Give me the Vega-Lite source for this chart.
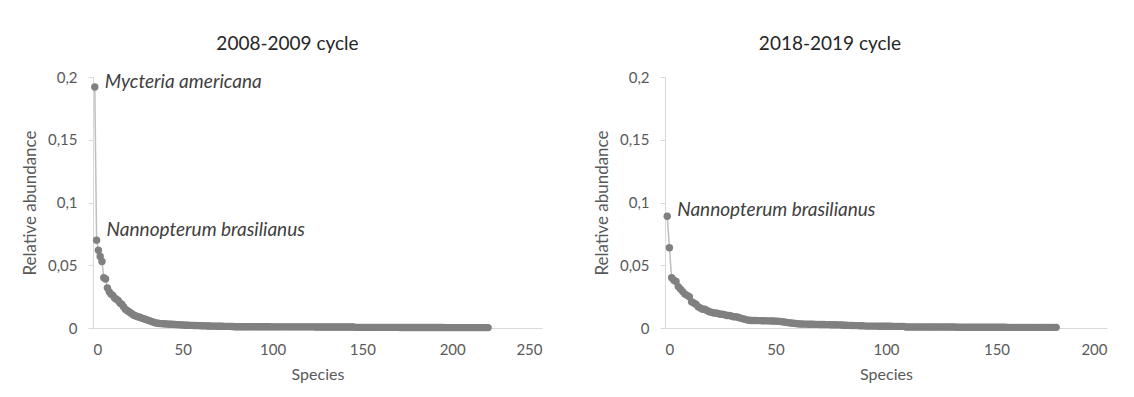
{
  "$schema": "https://vega.github.io/schema/vega-lite/v6.json",
  "background": "white",
  "padding": {"left": 21, "top": 35, "right": 5, "bottom": 5},
  "spacing": 51,
  "config": {
    "view": {"stroke": null},
    "font": "Lato",
    "axis": {
      "grid": false,
      "domainColor": "#d9d9d9",
      "domainWidth": 1,
      "tickColor": "#d9d9d9",
      "labelColor": "#595959",
      "titleColor": "#595959",
      "labelFont": "Lato",
      "titleFont": "Lato",
      "labelFontSize": 15,
      "titleFontSize": 15,
      "titleFontWeight": "normal"
    },
    "title": {"font": "Lato", "fontSize": 19, "fontWeight": "normal", "color": "#262626", "offset": 16}
  },
  "datasets": {
    "c2008": [
      {"species": 1, "abundance": 0.192, "label": "Mycteria americana"},
      {"species": 2, "abundance": 0.07, "label": "Nannopterum brasilianus"},
      {"species": 3, "abundance": 0.062}, {"species": 4, "abundance": 0.057}, {"species": 5, "abundance": 0.053},
      {"species": 6, "abundance": 0.04}, {"species": 7, "abundance": 0.039}, {"species": 8, "abundance": 0.032},
      {"species": 9, "abundance": 0.029}, {"species": 10, "abundance": 0.027}, {"species": 11, "abundance": 0.026},
      {"species": 12, "abundance": 0.024}, {"species": 13, "abundance": 0.023}, {"species": 14, "abundance": 0.022},
      {"species": 15, "abundance": 0.02}, {"species": 16, "abundance": 0.019}, {"species": 17, "abundance": 0.017},
      {"species": 18, "abundance": 0.015}, {"species": 19, "abundance": 0.014}, {"species": 20, "abundance": 0.013},
      {"species": 21, "abundance": 0.012}, {"species": 22, "abundance": 0.011}, {"species": 23, "abundance": 0.01},
      {"species": 24, "abundance": 0.0095}, {"species": 25, "abundance": 0.009}, {"species": 26, "abundance": 0.0085},
      {"species": 27, "abundance": 0.008}, {"species": 28, "abundance": 0.0075}, {"species": 29, "abundance": 0.007},
      {"species": 30, "abundance": 0.0065}, {"species": 31, "abundance": 0.006}, {"species": 32, "abundance": 0.0055},
      {"species": 33, "abundance": 0.005}, {"species": 34, "abundance": 0.0045}, {"species": 35, "abundance": 0.004},
      {"species": 36, "abundance": 0.0038}, {"species": 37, "abundance": 0.0036}, {"species": 38, "abundance": 0.0035},
      {"species": 39, "abundance": 0.0034}, {"species": 40, "abundance": 0.0033}, {"species": 41, "abundance": 0.0032},
      {"species": 42, "abundance": 0.0031}, {"species": 43, "abundance": 0.003}, {"species": 44, "abundance": 0.003},
      {"species": 45, "abundance": 0.0029}, {"species": 46, "abundance": 0.0028}, {"species": 47, "abundance": 0.0027},
      {"species": 48, "abundance": 0.0026}, {"species": 49, "abundance": 0.0025}, {"species": 50, "abundance": 0.0024},
      {"species": 51, "abundance": 0.0023}, {"species": 52, "abundance": 0.0022}, {"species": 53, "abundance": 0.0022},
      {"species": 54, "abundance": 0.0021}, {"species": 55, "abundance": 0.0021}, {"species": 56, "abundance": 0.002},
      {"species": 57, "abundance": 0.002}, {"species": 58, "abundance": 0.0019}, {"species": 59, "abundance": 0.0019},
      {"species": 60, "abundance": 0.0018}, {"species": 61, "abundance": 0.0018}, {"species": 62, "abundance": 0.0017},
      {"species": 63, "abundance": 0.0017}, {"species": 64, "abundance": 0.0016}, {"species": 65, "abundance": 0.0016},
      {"species": 66, "abundance": 0.0015}, {"species": 67, "abundance": 0.0015}, {"species": 68, "abundance": 0.0015},
      {"species": 69, "abundance": 0.0014}, {"species": 70, "abundance": 0.0014}, {"species": 71, "abundance": 0.0014},
      {"species": 72, "abundance": 0.0014}, {"species": 73, "abundance": 0.0013}, {"species": 74, "abundance": 0.0013},
      {"species": 75, "abundance": 0.0013}, {"species": 76, "abundance": 0.0013}, {"species": 77, "abundance": 0.0012},
      {"species": 78, "abundance": 0.0012},
      {"species": 79, "abundance": 0.001}, {"species": 80, "abundance": 0.001}, {"species": 81, "abundance": 0.001},
      {"species": 82, "abundance": 0.001}, {"species": 83, "abundance": 0.001}, {"species": 84, "abundance": 0.001},
      {"species": 85, "abundance": 0.001}, {"species": 86, "abundance": 0.001}, {"species": 87, "abundance": 0.001},
      {"species": 88, "abundance": 0.001}, {"species": 89, "abundance": 0.001}, {"species": 90, "abundance": 0.001},
      {"species": 91, "abundance": 0.001}, {"species": 92, "abundance": 0.001}, {"species": 93, "abundance": 0.001},
      {"species": 94, "abundance": 0.001}, {"species": 95, "abundance": 0.001}, {"species": 96, "abundance": 0.001},
      {"species": 97, "abundance": 0.001}, {"species": 98, "abundance": 0.001},
      {"species": 99, "abundance": 0.0009}, {"species": 100, "abundance": 0.0009}, {"species": 101, "abundance": 0.0009},
      {"species": 102, "abundance": 0.0009}, {"species": 103, "abundance": 0.0009}, {"species": 104, "abundance": 0.0009},
      {"species": 105, "abundance": 0.0009}, {"species": 106, "abundance": 0.0009}, {"species": 107, "abundance": 0.0009},
      {"species": 108, "abundance": 0.0009}, {"species": 109, "abundance": 0.0009}, {"species": 110, "abundance": 0.0009},
      {"species": 111, "abundance": 0.0009}, {"species": 112, "abundance": 0.0009}, {"species": 113, "abundance": 0.0009},
      {"species": 114, "abundance": 0.0009}, {"species": 115, "abundance": 0.0009}, {"species": 116, "abundance": 0.0009},
      {"species": 117, "abundance": 0.0009}, {"species": 118, "abundance": 0.0009}, {"species": 119, "abundance": 0.0009},
      {"species": 120, "abundance": 0.0009}, {"species": 121, "abundance": 0.0009}, {"species": 122, "abundance": 0.0009},
      {"species": 123, "abundance": 0.0009},
      {"species": 124, "abundance": 0.0008}, {"species": 125, "abundance": 0.0008}, {"species": 126, "abundance": 0.0008},
      {"species": 127, "abundance": 0.0008}, {"species": 128, "abundance": 0.0008}, {"species": 129, "abundance": 0.0008},
      {"species": 130, "abundance": 0.0008}, {"species": 131, "abundance": 0.0008}, {"species": 132, "abundance": 0.0008},
      {"species": 133, "abundance": 0.0008}, {"species": 134, "abundance": 0.0008}, {"species": 135, "abundance": 0.0008},
      {"species": 136, "abundance": 0.0008}, {"species": 137, "abundance": 0.0008}, {"species": 138, "abundance": 0.0008},
      {"species": 139, "abundance": 0.0008}, {"species": 140, "abundance": 0.0008}, {"species": 141, "abundance": 0.0008},
      {"species": 142, "abundance": 0.0008}, {"species": 143, "abundance": 0.0008}, {"species": 144, "abundance": 0.0008},
      {"species": 145, "abundance": 0.0008},
      {"species": 146, "abundance": 0.0005}, {"species": 147, "abundance": 0.0005}, {"species": 148, "abundance": 0.0005},
      {"species": 149, "abundance": 0.0005}, {"species": 150, "abundance": 0.0005}, {"species": 151, "abundance": 0.0005},
      {"species": 152, "abundance": 0.0005}, {"species": 153, "abundance": 0.0005}, {"species": 154, "abundance": 0.0005},
      {"species": 155, "abundance": 0.0005}, {"species": 156, "abundance": 0.0005}, {"species": 157, "abundance": 0.0005},
      {"species": 158, "abundance": 0.0005}, {"species": 159, "abundance": 0.0005}, {"species": 160, "abundance": 0.0005},
      {"species": 161, "abundance": 0.0005}, {"species": 162, "abundance": 0.0005}, {"species": 163, "abundance": 0.0005},
      {"species": 164, "abundance": 0.0005}, {"species": 165, "abundance": 0.0005}, {"species": 166, "abundance": 0.0005},
      {"species": 167, "abundance": 0.0005}, {"species": 168, "abundance": 0.0005}, {"species": 169, "abundance": 0.0005},
      {"species": 170, "abundance": 0.0005},
      {"species": 171, "abundance": 0.0004}, {"species": 172, "abundance": 0.0004}, {"species": 173, "abundance": 0.0004},
      {"species": 174, "abundance": 0.0004}, {"species": 175, "abundance": 0.0004}, {"species": 176, "abundance": 0.0004},
      {"species": 177, "abundance": 0.0004}, {"species": 178, "abundance": 0.0004}, {"species": 179, "abundance": 0.0004},
      {"species": 180, "abundance": 0.0004}, {"species": 181, "abundance": 0.0004}, {"species": 182, "abundance": 0.0004},
      {"species": 183, "abundance": 0.0004}, {"species": 184, "abundance": 0.0004}, {"species": 185, "abundance": 0.0004},
      {"species": 186, "abundance": 0.0004}, {"species": 187, "abundance": 0.0004}, {"species": 188, "abundance": 0.0004},
      {"species": 189, "abundance": 0.0004}, {"species": 190, "abundance": 0.0004}, {"species": 191, "abundance": 0.0004},
      {"species": 192, "abundance": 0.0004}, {"species": 193, "abundance": 0.0004}, {"species": 194, "abundance": 0.0004},
      {"species": 195, "abundance": 0.0004},
      {"species": 196, "abundance": 0.0003}, {"species": 197, "abundance": 0.0003}, {"species": 198, "abundance": 0.0003},
      {"species": 199, "abundance": 0.0003}, {"species": 200, "abundance": 0.0003}, {"species": 201, "abundance": 0.0003},
      {"species": 202, "abundance": 0.0003}, {"species": 203, "abundance": 0.0003}, {"species": 204, "abundance": 0.0003},
      {"species": 205, "abundance": 0.0003}, {"species": 206, "abundance": 0.0003}, {"species": 207, "abundance": 0.0003},
      {"species": 208, "abundance": 0.0003}, {"species": 209, "abundance": 0.0003}, {"species": 210, "abundance": 0.0003},
      {"species": 211, "abundance": 0.0003}, {"species": 212, "abundance": 0.0003}, {"species": 213, "abundance": 0.0003},
      {"species": 214, "abundance": 0.0003}, {"species": 215, "abundance": 0.0003}, {"species": 216, "abundance": 0.0003},
      {"species": 217, "abundance": 0.0003}, {"species": 218, "abundance": 0.0003}, {"species": 219, "abundance": 0.0003},
      {"species": 220, "abundance": 0.0003}
    ],
    "c2018": [
      {"species": 1, "abundance": 0.089, "label": "Nannopterum brasilianus"},
      {"species": 2, "abundance": 0.064}, {"species": 3, "abundance": 0.04}, {"species": 4, "abundance": 0.038},
      {"species": 5, "abundance": 0.037}, {"species": 6, "abundance": 0.033}, {"species": 7, "abundance": 0.031},
      {"species": 8, "abundance": 0.029}, {"species": 9, "abundance": 0.027}, {"species": 10, "abundance": 0.026},
      {"species": 11, "abundance": 0.025}, {"species": 12, "abundance": 0.021}, {"species": 13, "abundance": 0.02},
      {"species": 14, "abundance": 0.019}, {"species": 15, "abundance": 0.017}, {"species": 16, "abundance": 0.016},
      {"species": 17, "abundance": 0.015}, {"species": 18, "abundance": 0.015}, {"species": 19, "abundance": 0.014},
      {"species": 20, "abundance": 0.013}, {"species": 21, "abundance": 0.0125}, {"species": 22, "abundance": 0.012},
      {"species": 23, "abundance": 0.012}, {"species": 24, "abundance": 0.0115}, {"species": 25, "abundance": 0.011},
      {"species": 26, "abundance": 0.011}, {"species": 27, "abundance": 0.0105}, {"species": 28, "abundance": 0.01},
      {"species": 29, "abundance": 0.01}, {"species": 30, "abundance": 0.0095}, {"species": 31, "abundance": 0.009},
      {"species": 32, "abundance": 0.009}, {"species": 33, "abundance": 0.0085}, {"species": 34, "abundance": 0.008},
      {"species": 35, "abundance": 0.0075}, {"species": 36, "abundance": 0.007}, {"species": 37, "abundance": 0.0065},
      {"species": 38, "abundance": 0.0062}, {"species": 39, "abundance": 0.006}, {"species": 40, "abundance": 0.006},
      {"species": 41, "abundance": 0.006}, {"species": 42, "abundance": 0.0059}, {"species": 43, "abundance": 0.0059},
      {"species": 44, "abundance": 0.0058}, {"species": 45, "abundance": 0.0058}, {"species": 46, "abundance": 0.0057},
      {"species": 47, "abundance": 0.0057}, {"species": 48, "abundance": 0.0056}, {"species": 49, "abundance": 0.0056},
      {"species": 50, "abundance": 0.0055}, {"species": 51, "abundance": 0.0054}, {"species": 52, "abundance": 0.0053},
      {"species": 53, "abundance": 0.005}, {"species": 54, "abundance": 0.0048}, {"species": 55, "abundance": 0.0045},
      {"species": 56, "abundance": 0.0042}, {"species": 57, "abundance": 0.004}, {"species": 58, "abundance": 0.0038},
      {"species": 59, "abundance": 0.0036}, {"species": 60, "abundance": 0.0034}, {"species": 61, "abundance": 0.0032},
      {"species": 62, "abundance": 0.0032}, {"species": 63, "abundance": 0.0031}, {"species": 64, "abundance": 0.0031},
      {"species": 65, "abundance": 0.003}, {"species": 66, "abundance": 0.003}, {"species": 67, "abundance": 0.003},
      {"species": 68, "abundance": 0.0029}, {"species": 69, "abundance": 0.0029}, {"species": 70, "abundance": 0.0028},
      {"species": 71, "abundance": 0.0028}, {"species": 72, "abundance": 0.0028}, {"species": 73, "abundance": 0.0027},
      {"species": 74, "abundance": 0.0027}, {"species": 75, "abundance": 0.0026}, {"species": 76, "abundance": 0.0026},
      {"species": 77, "abundance": 0.0026}, {"species": 78, "abundance": 0.0025}, {"species": 79, "abundance": 0.0025},
      {"species": 80, "abundance": 0.0024}, {"species": 81, "abundance": 0.0022}, {"species": 82, "abundance": 0.0022},
      {"species": 83, "abundance": 0.0021}, {"species": 84, "abundance": 0.002}, {"species": 85, "abundance": 0.002},
      {"species": 86, "abundance": 0.0019}, {"species": 87, "abundance": 0.0019}, {"species": 88, "abundance": 0.0018},
      {"species": 89, "abundance": 0.0018}, {"species": 90, "abundance": 0.0017},
      {"species": 91, "abundance": 0.0015}, {"species": 92, "abundance": 0.0015}, {"species": 93, "abundance": 0.0015},
      {"species": 94, "abundance": 0.0015}, {"species": 95, "abundance": 0.0015}, {"species": 96, "abundance": 0.0015},
      {"species": 97, "abundance": 0.0014}, {"species": 98, "abundance": 0.0014}, {"species": 99, "abundance": 0.0014},
      {"species": 100, "abundance": 0.0014}, {"species": 101, "abundance": 0.0014}, {"species": 102, "abundance": 0.0014},
      {"species": 103, "abundance": 0.0013}, {"species": 104, "abundance": 0.0013}, {"species": 105, "abundance": 0.0013},
      {"species": 106, "abundance": 0.0013}, {"species": 107, "abundance": 0.0013}, {"species": 108, "abundance": 0.0013},
      {"species": 109, "abundance": 0.0008}, {"species": 110, "abundance": 0.0008}, {"species": 111, "abundance": 0.0008},
      {"species": 112, "abundance": 0.0008}, {"species": 113, "abundance": 0.0008}, {"species": 114, "abundance": 0.0008},
      {"species": 115, "abundance": 0.0008}, {"species": 116, "abundance": 0.0008}, {"species": 117, "abundance": 0.0008},
      {"species": 118, "abundance": 0.0008}, {"species": 119, "abundance": 0.0008}, {"species": 120, "abundance": 0.0008},
      {"species": 121, "abundance": 0.0008}, {"species": 122, "abundance": 0.0008}, {"species": 123, "abundance": 0.0008},
      {"species": 124, "abundance": 0.0008}, {"species": 125, "abundance": 0.0008}, {"species": 126, "abundance": 0.0008},
      {"species": 127, "abundance": 0.0008}, {"species": 128, "abundance": 0.0008}, {"species": 129, "abundance": 0.0008},
      {"species": 130, "abundance": 0.0008}, {"species": 131, "abundance": 0.0008},
      {"species": 132, "abundance": 0.0006}, {"species": 133, "abundance": 0.0006}, {"species": 134, "abundance": 0.0006},
      {"species": 135, "abundance": 0.0006}, {"species": 136, "abundance": 0.0006}, {"species": 137, "abundance": 0.0006},
      {"species": 138, "abundance": 0.0006}, {"species": 139, "abundance": 0.0006}, {"species": 140, "abundance": 0.0006},
      {"species": 141, "abundance": 0.0006}, {"species": 142, "abundance": 0.0006}, {"species": 143, "abundance": 0.0006},
      {"species": 144, "abundance": 0.0006}, {"species": 145, "abundance": 0.0006}, {"species": 146, "abundance": 0.0006},
      {"species": 147, "abundance": 0.0006}, {"species": 148, "abundance": 0.0006}, {"species": 149, "abundance": 0.0006},
      {"species": 150, "abundance": 0.0006}, {"species": 151, "abundance": 0.0006}, {"species": 152, "abundance": 0.0006},
      {"species": 153, "abundance": 0.0006}, {"species": 154, "abundance": 0.0006},
      {"species": 155, "abundance": 0.0005}, {"species": 156, "abundance": 0.0005}, {"species": 157, "abundance": 0.0005},
      {"species": 158, "abundance": 0.0005}, {"species": 159, "abundance": 0.0005}, {"species": 160, "abundance": 0.0005},
      {"species": 161, "abundance": 0.0005}, {"species": 162, "abundance": 0.0005}, {"species": 163, "abundance": 0.0005},
      {"species": 164, "abundance": 0.0005}, {"species": 165, "abundance": 0.0005}, {"species": 166, "abundance": 0.0005},
      {"species": 167, "abundance": 0.0005}, {"species": 168, "abundance": 0.0005}, {"species": 169, "abundance": 0.0005},
      {"species": 170, "abundance": 0.0005}, {"species": 171, "abundance": 0.0005}, {"species": 172, "abundance": 0.0005},
      {"species": 173, "abundance": 0.0005}, {"species": 174, "abundance": 0.0005}, {"species": 175, "abundance": 0.0005},
      {"species": 176, "abundance": 0.0005}, {"species": 177, "abundance": 0.0005}
    ]
  },
  "hconcat": [
    {
      "title": {"text": "2008-2009 cycle", "dx": -30},
      "width": 449,
      "height": 251,
      "data": {"name": "c2008"},
      "encoding": {
        "x": {"field": "species", "type": "quantitative", "scale": {"domain": [0, 250], "nice": false},
              "axis": {"title": "Species", "titleFontSize": 16, "values": [0, 50, 100, 150, 200, 250], "ticks": false, "labelPadding": 14, "titlePadding": 9}},
        "y": {"field": "abundance", "type": "quantitative", "scale": {"domain": [0, 0.2], "nice": false},
              "axis": {"title": "Relative abundance", "titleFontSize": 17, "values": [0, 0.05, 0.1, 0.15, 0.2], "labelExpr": "replace(toString(datum.value), '.', ',')",
                       "tickSize": 5, "labelPadding": 11, "titlePadding": 8}}
      },
      "layer": [
        {"mark": {"type": "line", "color": "#bfbfbf", "strokeWidth": 1.5}},
        {"mark": {"type": "point", "filled": true, "color": "#808080", "size": 55, "opacity": 1}},
        {"transform": [{"filter": "datum.label == 'Mycteria americana'"}],
         "mark": {"type": "text", "align": "left", "baseline": "middle", "dx": 10, "dy": -5, "fontStyle": "italic", "fontSize": 19, "font": "Lato", "color": "#404040"},
         "encoding": {"text": {"field": "label"}}},
        {"transform": [{"filter": "datum.label == 'Nannopterum brasilianus'"}],
         "mark": {"type": "text", "align": "left", "baseline": "middle", "dx": 10, "dy": -10, "fontStyle": "italic", "fontSize": 19, "font": "Lato", "color": "#404040"},
         "encoding": {"text": {"field": "label"}}}
      ]
    },
    {
      "title": {"text": "2018-2019 cycle", "dx": -56},
      "width": 442,
      "height": 251,
      "data": {"name": "c2018"},
      "encoding": {
        "x": {"field": "species", "type": "quantitative", "scale": {"domain": [0, 200], "nice": false},
              "axis": {"title": "Species", "titleFontSize": 16, "values": [0, 50, 100, 150, 200], "ticks": false, "labelPadding": 14, "titlePadding": 9}},
        "y": {"field": "abundance", "type": "quantitative", "scale": {"domain": [0, 0.2], "nice": false},
              "axis": {"title": "Relative abundance", "titleFontSize": 17, "values": [0, 0.05, 0.1, 0.15, 0.2], "labelExpr": "replace(toString(datum.value), '.', ',')",
                       "tickSize": 5, "labelPadding": 11, "titlePadding": 8}}
      },
      "layer": [
        {"mark": {"type": "line", "color": "#bfbfbf", "strokeWidth": 1.5}},
        {"mark": {"type": "point", "filled": true, "color": "#808080", "size": 55, "opacity": 1}},
        {"transform": [{"filter": "datum.label == 'Nannopterum brasilianus'"}],
         "mark": {"type": "text", "align": "left", "baseline": "middle", "dx": 10, "dy": -6, "fontStyle": "italic", "fontSize": 19, "font": "Lato", "color": "#404040"},
         "encoding": {"text": {"field": "label"}}}
      ]
    }
  ]
}
